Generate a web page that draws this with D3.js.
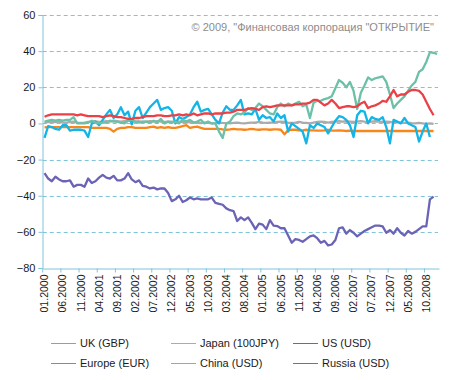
<!DOCTYPE html>
<html>
<head>
<meta charset="utf-8">
<script src="https://cdn.jsdelivr.net/npm/d3@7"></script>
<style>
  body { margin: 0; background: #fff; }
  text { font-family: "Liberation Sans", Arial, sans-serif; }
</style>
</head>
<body>
<div id="chart"></div>
<script>
var svgWidth = 456;
var svgHeight = 380;

// month labels 01.2000 .. 01.2009
var months = [];
for (var yr = 2000; yr <= 2009; yr++) {
    for (var m = 1; m <= 12; m++) {
        if (yr === 2009 && m > 1) break;
        months.push((m < 10 ? "0" + m : "" + m) + "." + yr);
    }
}

var yTicks = [-80, -60, -40, -20, 0, 20, 40, 60];

var uk = [-2.2, -2, -2, -2, -2, -2, -2, -2, -2, -2, -2, -2, -2, -2.5, -2.5, -2.5, -2.5, -2.5, -3, -4.5,
    -3, -2.5, -2.5, -2, -2, -2.5, -2.5, -2.5, -2.5, -2, -1.8, -2.5, -2, -2.5, -2, -2.5, -2.5, -2, -1.5, -1,
    -2.5, -2, -1.8, -2.5, -3, -3, -3, -3, -3, -3.3, -3.5, -3.3, -3, -3.3, -3.3, -3.5, -3.3, -3, -3.3, -3.5,
    -3.3, -3.3, -3.5, -3.3, -3.3, -3.5, -6, -3.8, -3.5, -3.5, -3.8, -3.8, -3.5, -3.8, -3.8, -4, -4, -3.8, -3.5, -4,
    -4, -3.8, -4, -4.2, -4, -4.2, -4.2, -4.2, -4.2, -4.2, -4.2, -4.2, -4.2, -4.2, -4.2, -4.2, -4.2, -4.2, -4.2, -4.2,
    -4.2, -4.2, -4.2, -4.2, -4.2, -4.2, -4.2, -4.2];

var japan = [0.5, 0.8, 1, 0.8, 1, 0.5, 0.5, 0.8, 1, 0.5, 0.3, 0.5, 0.8,
    1, 1.2, 0.8, 1, 1.3, 1, 1.5, 1.2, 1, 1.3, 1.5, 1.2, 1, 1.2, 0.8, 1, 1.2, 1, 1.3, 1, 0.8, 1, 1, 0.8, 1, 0.8, 0.5, 0.8,
    0.5, 0.3, 0.2, 0.5, 0.3, 0, 0.2, 0.5, 0.3, 0.2, 0, 0.3, 0.5, 0.2, 0, 0.3, 0.5, 0.5, 0.8, 0.5, 0.3, 0.5,
    0.5, 0.8, 1, 0.8, 0.5, 0.3, 0.5, 0.8, 0.5, 0.3, 0, 0.5, 0.8, 1, 0.8, 0.5, 0.8, 1, 1.2, 1,
    1.2, 1, 0.8, 1, 1.3, 1, 0.8, 1, 1.2, 1, 0.8, 1, 0.8, 0.5, 0.8, 0.5,
    0.3, 0.5, 0.2, 0, 0.3, 0, -0.3, 0, -0.3];

var us = [-27.5, -30.5, -32, -29.5, -31, -32, -32, -31.5, -35, -34, -34, -35, -30.5, -33, -32, -30, -28.5, -30, -30.5, -29,
    -31.5, -31.5, -30.5, -27.5, -31, -32.5, -31.5, -34.5, -35, -36, -35.5, -36.5, -36, -36, -38.5, -43, -42, -40, -43.5, -42.5,
    -41, -42, -41.5, -42, -42, -42, -41, -44, -44.5, -45, -47, -48, -48.5, -54, -52, -53.5, -52, -55, -58.5, -55.5,
    -56, -58.5, -53.5, -56.5, -56.8, -58, -58, -62, -66, -64, -64.5, -65.5, -64, -62.5, -62, -63.5, -66, -65, -67.5, -67,
    -64.5, -58, -57.5, -61, -59, -60.5, -62.5, -61, -59.5, -58.5, -57.5, -56.5, -56.5, -57, -60.5, -59, -61, -58, -60.5, -62,
    -59.5, -61, -60, -58.5, -57, -57, -42, -40.5];

var europe = [-8, -1.5, -2, -3, -3.5, -1, -1, -4, -3.5, -3.5, -3.5, -4, -7.5, 0, 1, -1, 2, 5, 7.5, 3,
    5, 9, 4.5, 6.5, -0.5, 7, 9, 3, 6, 9, 11, 13, 7.5, 8.5, 9, 7, 0, 3.5, 2.5, 3.5,
    5, 9, 12, 6.5, 7.5, 8, 5, 2, 0, 6, 9.5, 7.5, 7.5, 10, 13, 5, 5.5, 5, 8, 2,
    4.5, 3, 3.5, 1, 5.5, 3, 4.5, -4.5, 0, -1.5, -3, -4.5, -11, -1, -2.5, 0, -1, -2, -5.5, -2,
    1.5, 4, 3.5, 2, -1, -7.5, 4.5, 7, 6.5, 0, 3.5, 2.5, 2, 3.5, -2, -11, 2, 1, 0, 3,
    0, -1, -2, -10, -4.5, 0, -7.5];

var china = [1, 1.5, 2, 1.5, 2, 1.5, 2, 2, 3.5, 0, 0, 0, 0.5, 1.5, 0.5, 0, 0.5, 0.5, 1.5, 1,
    1, 0.5, 0, 1.5, 2, 1, 0.5, 1, 1, 0.5, 1.5, 0.5, 2.5, 0, 1, 0.5, 1, 0, 2, 1,
    2, 0.5, 1, 2, 0, 1, 0, 0, -4.5, -8, 0, 1, 4, 5.5, 5, 6, 8.5, 7.5, 8.5, 11,
    9.5, 7.5, 5.5, 5, 9, 11, 9.5, 11, 10, 11, 12, 9.5, 10.5, 3, 11.5, 12.5, 12.5, 13.5, 14, 15,
    19.5, 24, 22.5, 20, 23, 18, 8, 17, 21, 25.5, 24, 25, 25.5, 26, 23, 16, 8.5, 11, 13, 15,
    18, 21, 23, 28.5, 30, 34, 39.5, 39, 38.5];

var russia = [3.7, 4.5, 5, 5, 5, 5, 5, 5, 5, 4.5, 5, 4.5, 4, 4, 4, 4, 3.5, 4, 4.5, 4,
    3.5, 3.5, 3, 2.5, 2.5, 3, 3, 3.5, 4, 4, 4, 4.5, 4.5, 4, 4, 4.5, 4.5, 5, 4.5, 5,
    4.5, 5.5, 4.5, 5, 5.5, 5.5, 5, 5.5, 5.5, 5.5, 6, 6, 6.5, 7.5, 7.5, 7.5, 8, 8.5, 8, 7.5,
    9, 9.5, 9, 9.5, 10, 10, 10, 10, 10, 10.5, 10.5, 11, 11, 11.5, 13, 13, 11.5, 10, 11, 13,
    11, 8.5, 9, 9.5, 9.5, 9, 9.5, 11, 12, 8.5, 9.5, 10, 11, 12.5, 12, 15, 18.5, 15, 16, 16,
    17.5, 18.5, 18.5, 18, 16, 12, 8, 4.5];

var seriesNames = ["UK (GBP)", "Japan (100JPY)", "US (USD)", "Europe (EUR)", "China (USD)", "Russia (USD)"];
var seriesData = [uk, japan, us, europe, china, russia];
var seriesColors = ["#f7861c", "#ababab", "#6b63b5", "#12b5e6", "#6cc0a8", "#ea4046"];

var svg = d3.select("#chart")
    .append("svg")
    .attr("width", svgWidth)
    .attr("height", svgHeight);

var axisColor = "#80c4dc";

var x = d3.scaleBand()
    .domain(months)
    .range([42.7, 439]);

var y = d3.scaleLinear()
    .domain([-80, 60])
    .range([268, 15]);

var bw = x.bandwidth();

// gridlines
svg.append("g")
    .selectAll("line")
    .data(yTicks.filter(d => d > -80))
    .enter()
    .append("line")
    .attr("x1", 42.7)
    .attr("x2", 438)
    .attr("y1", d => Math.round(y(d)) + 0.5)
    .attr("y2", d => Math.round(y(d)) + 0.5)
    .attr("stroke", axisColor)
    .attr("stroke-width", 1)
    .attr("stroke-dasharray", "4,3");

// y axis
var leftAxis = d3.axisLeft(y).tickValues(yTicks).tickSize(4).tickPadding(3);
var yAxis = svg.append("g")
    .attr("transform", "translate(42.5,0)")
    .call(leftAxis);
yAxis.select(".domain").attr("stroke", axisColor);
yAxis.selectAll(".tick line").attr("stroke", axisColor);
yAxis.selectAll("text")
    .attr("font-size", "11px")
    .attr("fill", "#1a1a1a")
    .style("font-family", "Liberation Sans, Arial, sans-serif");

// x axis, ticks on category boundaries every 5 months
var tickMonths = months.filter((d, i) => i % 5 === 0);
var bottomAxis = d3.axisBottom(x).tickValues(tickMonths).tickSize(4).tickSizeOuter(0);
var xAxis = svg.append("g")
    .attr("transform", "translate(0,268.5)")
    .call(bottomAxis);
xAxis.select(".domain").attr("stroke", axisColor);
xAxis.selectAll(".tick line")
    .attr("stroke", axisColor)
    .attr("x1", -bw / 2)
    .attr("x2", -bw / 2);
xAxis.selectAll("text")
    .attr("font-size", "10.5px")
    .attr("fill", "#1a1a1a")
    .style("font-family", "Liberation Sans, Arial, sans-serif")
    .attr("transform", "rotate(-90)")
    .attr("text-anchor", "end")
    .attr("x", -6)
    .attr("y", 0)
    .attr("dy", "0.35em");

// series lines
var line = d3.line()
    .x((d, i) => x(months[i]) + bw / 2)
    .y(d => y(d));

svg.append("g")
    .selectAll("path")
    .data(seriesData)
    .enter()
    .append("path")
    .attr("d", d => line(d))
    .attr("fill", "none")
    .attr("stroke", (d, i) => seriesColors[i])
    .attr("stroke-width", 2.3)
    .attr("stroke-linejoin", "round");

// copyright
svg.append("text")
    .attr("x", 434)
    .attr("y", 31)
    .attr("text-anchor", "end")
    .attr("font-size", "11px")
    .attr("fill", "#8c8c8c")
    .text("© 2009, \"Финансовая корпорация \"ОТКРЫТИЕ\"");

// legend
var legendCols = [51, 171, 293];
var legendRows = [343, 363];
var legend = svg.append("g")
    .selectAll("g")
    .data(seriesNames)
    .enter()
    .append("g")
    .attr("transform", (d, i) => `translate(${legendCols[i % 3]}, ${legendRows[Math.floor(i / 3)]})`);

legend.append("line")
    .attr("x1", 0)
    .attr("x2", 25)
    .attr("y1", 0.5)
    .attr("y2", 0.5)
    .attr("stroke", (d, i) => seriesColors[i])
    .attr("stroke-width", 1);

legend.append("text")
    .attr("x", 29)
    .attr("y", 4)
    .attr("font-size", "11px")
    .attr("fill", "#1a1a1a")
    .text(d => d);
</script>
</body>
</html>
